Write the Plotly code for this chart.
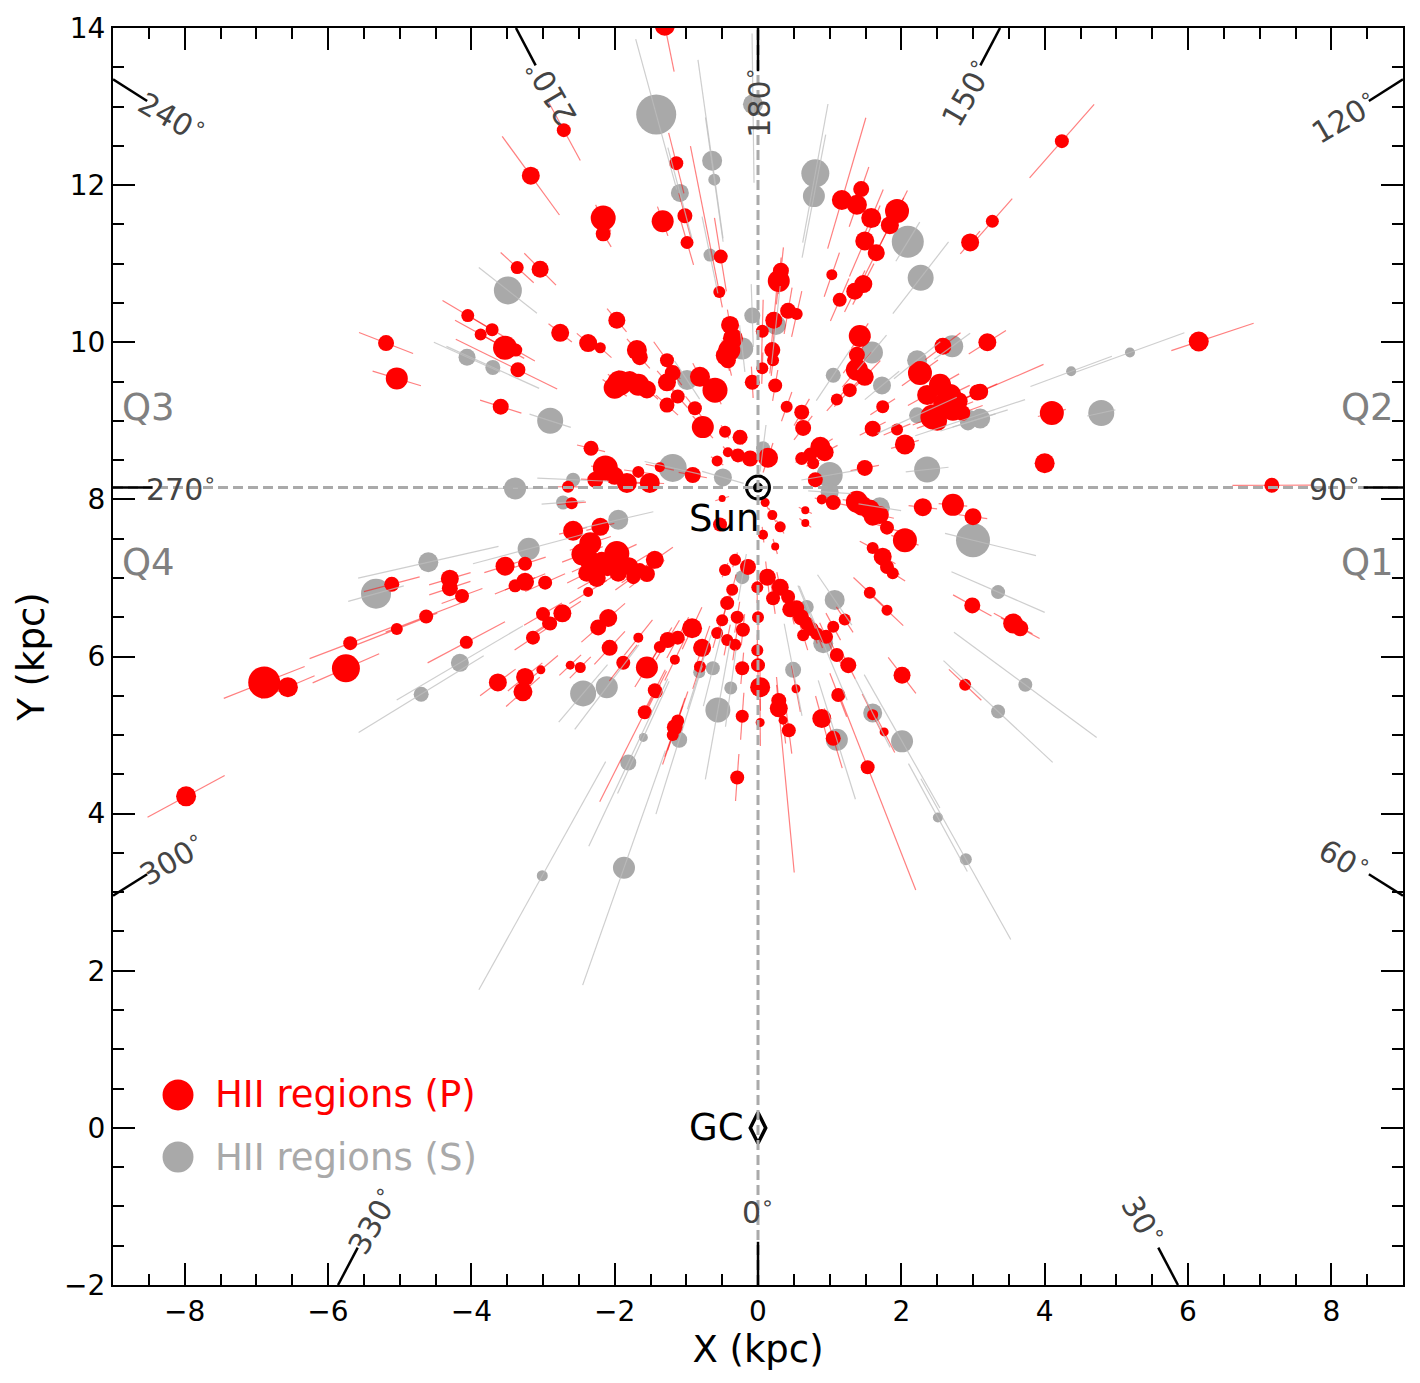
import math
import plotly.graph_objects as go

# Sun and Galactic centre
R0 = 8.15
X_MIN, X_MAX = -9, 9
Y_MIN, Y_MAX = -2, 14

# HII regions, primary sample: (x kpc, y kpc, marker size, err toward Sun, err away from Sun)
p_q1 = [
    (0.0, 6.50, 12, 0.2, 0.2), (0.0, 5.89, 14, 0.2, 0.2), (0.03, 5.61, 20, 0.3, 0.3), (0.03, 5.16, 9, 0.3, 0.3),
    (0.29, 5.34, 18, 0.3, 2.1), (0.29, 5.44, 15, 0.3, 0.3), (0.43, 5.06, 14, 0.3, 0.3), (0.35, 5.19, 9, 0.3, 0.3),
    (0.53, 5.59, 9, 0.3, 0.3), (0.89, 5.21, 19, 0.3, 0.3), (1.05, 4.96, 15, 0.4, 0.4), (1.12, 5.51, 14, 0.3, 0.3),
    (1.60, 5.26, 11, 0.3, 0.3), (1.76, 5.04, 9, 0.3, 0.3), (0.13, 7.01, 17, 0.2, 0.2), (0.31, 6.88, 17, 0.2, 0.2),
    (0.42, 6.76, 14, 0.2, 0.2), (0.21, 6.74, 14, 0.2, 0.2), (0.54, 6.62, 15, 0.2, 0.2), (0.68, 6.42, 14, 0.2, 0.2),
    (0.82, 6.29, 13, 0.2, 0.2), (0.63, 6.27, 12, 0.2, 0.2), (1.21, 6.47, 12, 0.2, 0.2), (1.05, 6.38, 12, 0.2, 0.2),
    (1.10, 6.02, 14, 0.2, 0.2), (1.26, 5.89, 16, 0.2, 0.2), (0.10, 7.96, 9, 0.1, 0.1), (0.20, 7.80, 10, 0.1, 0.1),
    (0.31, 7.65, 11, 0.1, 0.1), (0.07, 7.55, 10, 0.1, 0.1), (0.24, 7.40, 8, 0.1, 0.1), (0.66, 7.86, 8, 0.1, 0.1),
    (0.66, 7.70, 8, 0.1, 0.1), (1.38, 7.97, 22, 0.2, 0.2), (1.56, 7.87, 20, 0.2, 0.2), (1.60, 7.78, 18, 0.2, 0.2),
    (1.80, 7.64, 14, 0.2, 0.2), (2.05, 7.48, 24, 0.2, 0.2), (2.30, 7.90, 18, 0.2, 0.2), (2.72, 7.93, 22, 0.2, 0.2),
    (3.00, 7.78, 17, 0.2, 0.2), (1.60, 7.38, 12, 0.2, 0.2), (1.74, 7.27, 18, 0.2, 0.2), (1.80, 7.14, 14, 0.2, 0.2),
    (1.88, 7.06, 12, 0.2, 0.2), (1.56, 6.81, 12, 0.3, 0.3), (1.80, 6.59, 11, 0.3, 0.3), (2.99, 6.65, 16, 0.3, 0.3),
    (3.56, 6.42, 20, 0.3, 0.3), (3.66, 6.36, 16, 0.3, 0.3), (2.01, 5.76, 17, 0.3, 0.3), (2.89, 5.64, 12, 0.3, 0.3),
    (1.53, 4.59, 14, 1.0, 1.7), (1.05, 7.96, 15, 0.2, 0.2), (0.89, 8.00, 10, 0.1, 0.1), (0.45, 6.60, 16, 0.2, 0.2),
    (0.60, 6.50, 16, 0.2, 0.2), (0.75, 6.35, 14, 0.2, 0.2), (0.95, 6.25, 14, 0.2, 0.2), (1.45, 7.92, 20, 0.2, 0.2),
    (1.70, 7.80, 18, 0.2, 0.2),
]

p_q2 = [
    (0.29, 10.78, 22, 0.3, 0.3), (0.32, 10.91, 16, 0.3, 0.3), (1.17, 11.81, 20, 0.65, 1.1), (1.44, 11.95, 16, 0.3, 0.3),
    (1.38, 11.75, 20, 0.3, 0.3), (1.58, 11.58, 20, 0.4, 0.4), (1.94, 11.67, 24, 0.3, 0.3), (1.84, 11.49, 18, 0.4, 0.4),
    (1.49, 11.29, 19, 0.5, 0.5), (1.65, 11.14, 17, 0.4, 0.4), (2.96, 11.27, 18, 0.2, 0.2), (1.03, 10.86, 11, 0.3, 0.3),
    (1.47, 10.74, 18, 0.3, 0.3), (1.35, 10.65, 17, 0.3, 0.3), (1.14, 10.54, 14, 0.3, 0.3), (0.22, 10.28, 17, 0.4, 0.4),
    (0.42, 10.40, 16, 0.3, 0.3), (0.54, 10.36, 12, 0.3, 0.3), (0.06, 10.14, 13, 0.4, 0.4), (1.42, 10.08, 22, 0.2, 0.2),
    (2.58, 9.95, 17, 0.3, 0.3), (3.20, 10.00, 18, 0.3, 0.3), (0.20, 9.90, 16, 0.3, 0.3), (4.24, 12.56, 14, 0.65, 0.65),
    (3.27, 11.54, 13, 0.4, 0.4), (6.15, 10.01, 20, 0.4, 0.8), (4.10, 9.10, 24, 0.2, 0.2), (4.00, 8.46, 20, 0.1, 0.1),
    (7.17, 8.18, 15, 0.55, 0.55), (3.10, 9.37, 16, 0.3, 0.95), (2.85, 9.10, 16, 0.3, 0.3), (2.26, 9.61, 24, 0.3, 0.3),
    (2.54, 9.46, 22, 0.3, 0.3), (2.68, 9.33, 22, 0.3, 0.3), (2.36, 9.33, 20, 0.3, 0.3), (2.44, 9.05, 25, 0.3, 0.3),
    (2.72, 9.14, 22, 0.3, 0.3), (3.06, 9.36, 16, 0.3, 0.3), (1.38, 9.65, 22, 0.3, 0.3), (1.49, 9.56, 18, 0.3, 0.3),
    (1.28, 9.39, 14, 0.3, 0.3), (1.10, 9.27, 12, 0.2, 0.2), (1.74, 9.18, 13, 0.2, 0.2), (1.60, 8.90, 16, 0.2, 0.2),
    (1.94, 8.89, 12, 0.2, 0.2), (2.05, 8.70, 20, 0.2, 0.2), (1.49, 8.40, 16, 0.2, 0.2), (1.38, 9.84, 16, 0.3, 0.3),
    (0.40, 9.18, 12, 0.2, 0.2), (0.61, 9.11, 15, 0.2, 0.2), (0.63, 8.91, 16, 0.2, 0.2), (0.87, 8.67, 20, 0.2, 0.2),
    (0.73, 8.57, 14, 0.2, 0.2), (0.93, 8.60, 18, 0.2, 0.2), (0.61, 8.52, 13, 0.1, 0.1), (0.77, 8.46, 12, 0.1, 0.1),
    (0.80, 8.25, 15, 0.1, 0.1), (0.14, 8.53, 20, 0.2, 0.2), (0.06, 9.67, 12, 0.2, 0.2), (0.24, 9.45, 14, 0.2, 0.2),
    (0.21, 9.77, 12, 0.2, 0.2), (2.60, 9.22, 22, 0.3, 0.3), (2.80, 9.25, 18, 0.3, 0.3), (2.50, 9.00, 20, 0.3, 0.3),
]

p_q3 = [
    (-1.30, 14.03, 20, 0.6, 0.3), (-3.17, 12.12, 18, 0.64, 0.64), (-2.71, 12.70, 14, 0.45, 0.45), (-1.14, 12.28, 14, 0.4, 0.4),
    (-2.16, 11.58, 25, 0.2, 0.2), (-2.16, 11.38, 15, 0.2, 0.2), (-1.33, 11.54, 22, 0.2, 0.2), (-1.02, 11.61, 15, 0.3, 0.3),
    (-0.99, 11.27, 13, 0.3, 0.3), (-3.04, 10.93, 17, 0.3, 0.3), (-3.36, 10.95, 13, 0.3, 0.3), (-0.52, 11.09, 14, 0.45, 0.5),
    (-0.54, 10.64, 12, 0.2, 1.9), (-0.39, 10.22, 18, 0.2, 0.2), (-0.40, 9.90, 22, 0.2, 0.2), (-0.42, 9.77, 16, 0.2, 0.2),
    (-1.27, 9.77, 14, 0.3, 0.3), (-1.69, 9.90, 20, 0.2, 0.2), (-1.65, 9.81, 16, 0.2, 0.2), (-1.97, 10.28, 17, 0.2, 0.2),
    (-1.93, 9.48, 25, 0.2, 0.2), (-1.67, 9.46, 22, 0.2, 0.2), (-1.79, 9.52, 18, 0.2, 0.2), (-2.37, 9.99, 18, 0.2, 0.2),
    (-2.20, 9.93, 11, 0.2, 0.2), (-2.76, 10.12, 18, 0.2, 0.2), (-3.53, 9.93, 24, 0.3, 0.3), (-3.38, 9.90, 13, 0.3, 0.3),
    (-3.35, 9.65, 15, 0.6, 0.95), (-4.05, 10.34, 13, 0.4, 0.4), (-3.87, 10.10, 12, 0.4, 0.4), (-3.71, 10.16, 13, 0.4, 0.4),
    (-5.19, 9.99, 16, 0.4, 0.4), (-5.04, 9.54, 22, 0.35, 0.35), (-3.59, 9.18, 16, 0.3, 0.3), (-2.33, 8.65, 15, 0.2, 0.2),
    (-2.13, 8.40, 25, 0.2, 0.2), (-2.27, 8.25, 16, 0.2, 0.2), (-1.83, 8.21, 20, 0.2, 0.2), (-1.67, 8.35, 12, 0.2, 0.2),
    (-1.51, 8.21, 20, 0.2, 0.2), (-1.37, 8.41, 10, 0.2, 0.2), (-0.91, 8.31, 16, 0.2, 0.2), (-2.65, 8.16, 12, 0.2, 0.2),
    (-0.46, 8.86, 12, 0.1, 0.1), (-0.25, 8.79, 15, 0.1, 0.1), (-0.42, 8.60, 10, 0.1, 0.1), (-0.57, 8.49, 11, 0.1, 0.1),
    (-0.28, 8.56, 14, 0.1, 0.1), (-0.11, 8.52, 16, 0.1, 0.1), (-0.77, 8.92, 22, 0.2, 0.2), (-0.88, 9.16, 14, 0.2, 0.2),
    (-1.27, 9.20, 15, 0.2, 0.2), (-1.12, 9.31, 14, 0.2, 0.2), (-0.60, 9.39, 25, 0.2, 0.2), (-0.81, 9.56, 20, 0.2, 0.2),
    (-1.19, 9.61, 16, 0.2, 0.2), (-1.27, 9.49, 18, 0.2, 0.2), (-0.08, 9.49, 15, 0.2, 0.2), (-0.35, 10.05, 20, 0.2, 0.2),
    (-0.45, 9.83, 20, 0.2, 0.2), (-2.00, 9.42, 22, 0.2, 0.2), (-1.55, 9.40, 18, 0.2, 0.2), (-2.00, 8.30, 18, 0.2, 0.2),
]

p_q4 = [
    (-2.60, 7.95, 12, 0.2, 0.2), (-2.58, 7.60, 20, 0.2, 0.2), (-2.34, 7.44, 22, 0.3, 0.3), (-2.20, 7.65, 18, 0.2, 0.2),
    (-1.97, 7.31, 25, 0.3, 0.3), (-2.32, 7.19, 22, 0.3, 0.3), (-2.39, 7.06, 17, 0.3, 0.3), (-2.18, 7.23, 16, 0.3, 0.3),
    (-1.95, 7.06, 17, 0.3, 0.3), (-1.74, 7.01, 14, 0.3, 0.3), (-1.44, 7.23, 18, 0.3, 0.3), (-1.65, 7.10, 14, 0.3, 0.3),
    (-2.97, 6.94, 14, 0.3, 0.3), (-2.37, 6.82, 10, 0.3, 0.3), (-3.53, 7.15, 19, 0.3, 0.3), (-3.25, 7.18, 14, 0.3, 0.3),
    (-3.25, 6.95, 18, 0.3, 0.3), (-3.39, 6.90, 13, 0.3, 0.3), (-4.30, 6.99, 18, 0.3, 0.3), (-4.30, 6.87, 16, 0.3, 0.3),
    (-4.13, 6.77, 14, 0.3, 0.3), (-5.11, 6.92, 15, 0.4, 0.4), (-4.63, 6.51, 14, 0.6, 0.6), (-5.04, 6.35, 12, 0.6, 0.6),
    (-5.69, 6.17, 14, 0.6, 0.6), (-5.75, 5.85, 28, 0.5, 0.5), (-6.89, 5.67, 32, 0.6, 0.6), (-6.56, 5.61, 20, 0.4, 0.4),
    (-4.07, 6.18, 13, 0.6, 0.6), (-7.98, 4.22, 20, 0.6, 0.6), (-3.63, 5.67, 18, 0.3, 0.3), (-3.25, 5.74, 18, 0.3, 0.3),
    (-3.28, 5.55, 19, 0.3, 0.3), (-3.00, 6.54, 14, 0.3, 0.3), (-2.93, 6.42, 12, 0.3, 0.3), (-3.14, 6.24, 14, 0.3, 0.3),
    (-3.03, 5.83, 9, 0.3, 0.3), (-2.73, 6.55, 18, 0.3, 0.3), (-2.90, 6.42, 14, 0.3, 0.3), (-2.23, 6.37, 16, 0.3, 0.3),
    (-2.09, 6.49, 18, 0.3, 0.3), (-2.07, 6.11, 16, 0.3, 0.3), (-1.88, 5.92, 14, 0.3, 0.3), (-1.67, 6.24, 10, 0.3, 0.3),
    (-2.48, 5.86, 11, 0.2, 0.2), (-2.62, 5.89, 9, 0.2, 0.2), (-1.55, 5.86, 22, 0.3, 0.3), (-1.44, 5.57, 14, 0.3, 0.3),
    (-1.58, 5.29, 14, 0.3, 1.3), (-1.42, 5.55, 13, 0.3, 0.3), (-1.16, 5.10, 16, 0.4, 0.4), (-1.12, 5.18, 13, 0.4, 0.4),
    (-1.19, 5.00, 12, 0.4, 0.4), (-0.78, 6.11, 18, 0.3, 0.3), (-0.92, 6.36, 20, 0.3, 0.3), (-1.12, 6.24, 14, 0.3, 0.3),
    (-1.26, 6.21, 16, 0.3, 0.3), (-1.37, 6.12, 12, 0.3, 0.3), (-1.16, 5.96, 10, 0.3, 0.3), (-0.81, 5.87, 12, 0.3, 0.3),
    (-0.01, 6.08, 12, 0.2, 0.2), (-0.22, 5.85, 14, 0.2, 0.2), (-0.22, 5.24, 13, 0.3, 0.3), (-0.29, 4.46, 14, 0.3, 0.3),
    (-0.43, 6.68, 14, 0.2, 0.2), (-0.29, 6.50, 13, 0.2, 0.2), (-0.50, 6.46, 12, 0.2, 0.2), (-0.21, 6.34, 14, 0.2, 0.2),
    (-0.57, 6.30, 12, 0.2, 0.2), (-0.43, 6.21, 12, 0.2, 0.2), (-0.32, 6.15, 12, 0.2, 0.2), (-0.32, 7.23, 12, 0.1, 0.1),
    (-0.46, 7.10, 12, 0.1, 0.1), (-0.14, 7.14, 16, 0.1, 0.1), (-0.36, 6.85, 12, 0.2, 0.2), (-0.01, 6.88, 12, 0.2, 0.2),
    (-0.53, 7.68, 14, 0.1, 0.1), (-0.50, 8.01, 7, 0.1, 0.1), (-2.45, 7.30, 22, 0.3, 0.3), (-2.10, 7.15, 20, 0.3, 0.3),
    (-1.80, 7.15, 18, 0.3, 0.3), (-2.25, 7.00, 18, 0.3, 0.3), (-1.55, 7.05, 16, 0.3, 0.3),
]

# HII regions, secondary sample
s_north = [
    (-1.42, 12.90, 40, 1.0, 1.0), (-0.07, 13.03, 20, 1.0, 0.9), (-0.64, 12.31, 20, 1.0, 1.3), (-0.61, 12.07, 12, 0.8, 0.8),
    (-1.09, 11.90, 18, 0.6, 0.6), (-0.67, 11.11, 13, 0.5, 0.5), (0.80, 12.15, 28, 0.9, 0.9), (0.78, 11.86, 22, 0.8, 0.8),
    (2.09, 11.28, 32, 0.3, 0.3), (2.27, 10.82, 26, 0.6, 0.6), (-3.49, 10.66, 28, 0.5, 0.5), (-4.06, 9.81, 17, 0.5, 0.5),
    (-3.70, 9.68, 15, 0.7, 0.7), (-2.90, 9.00, 26, 0.3, 0.3), (-2.58, 8.25, 14, 0.5, 0.5), (-1.19, 8.40, 28, 0.4, 0.4),
    (-0.49, 8.28, 18, 0.3, 0.3), (-0.22, 9.92, 22, 0.3, 0.3), (-0.99, 9.52, 20, 0.3, 0.3), (-0.08, 10.34, 16, 0.4, 0.4),
    (0.25, 10.22, 20, 0.5, 0.5), (1.05, 9.58, 15, 0.4, 0.4), (1.59, 9.87, 22, 0.3, 0.3), (1.73, 9.45, 18, 0.3, 0.3),
    (2.22, 9.77, 20, 0.4, 0.4), (2.71, 9.95, 22, 0.3, 0.3), (2.96, 9.04, 15, 0.8, 0.8), (2.22, 9.07, 16, 0.6, 0.6),
    (3.10, 9.03, 20, 0.4, 0.4), (2.93, 8.98, 16, 0.4, 0.4), (4.79, 9.10, 26, 0.2, 0.2), (4.37, 9.63, 10, 0.6, 0.6),
    (5.19, 9.87, 10, 0.8, 0.8), (1.00, 8.31, 26, 0.4, 0.4), (2.36, 8.38, 26, 0.3, 0.3), (0.07, 8.65, 14, 0.3, 0.3),
]

s_south = [
    (-3.39, 8.14, 22, 0.6, 0.6), (-2.72, 7.96, 14, 0.3, 0.3), (1.00, 8.09, 18, 0.3, 0.3), (1.70, 7.90, 20, 0.3, 0.3),
    (3.00, 7.48, 34, 0.4, 0.9), (3.35, 6.82, 14, 0.7, 0.7), (3.73, 5.64, 14, 1.2, 1.2), (3.35, 5.30, 14, 1.0, 1.0),
    (2.90, 3.42, 12, 1.2, 1.2), (2.51, 3.95, 10, 0.8, 0.8), (2.01, 4.92, 22, 1.0, 1.0), (1.60, 5.28, 19, 0.5, 0.5),
    (1.10, 4.94, 22, 0.8, 0.8), (1.07, 6.72, 20, 0.4, 0.4), (0.68, 6.63, 14, 0.3, 0.3), (0.91, 6.17, 20, 0.8, 0.8),
    (0.49, 5.83, 16, 0.6, 0.6), (-0.22, 7.01, 14, 0.3, 0.3), (-0.38, 5.60, 13, 0.5, 0.5), (-0.56, 5.32, 25, 0.9, 0.9),
    (-0.63, 5.85, 14, 0.5, 0.5), (-0.82, 5.80, 12, 0.5, 0.5), (-2.44, 5.53, 26, 0.5, 0.5), (-2.11, 5.61, 22, 0.7, 0.7),
    (-1.60, 4.97, 9, 0.8, 0.8), (-1.10, 4.94, 16, 1.0, 1.0), (-1.81, 4.65, 16, 1.2, 1.2), (-1.87, 3.31, 22, 1.6, 1.6),
    (-3.01, 3.21, 11, 1.7, 1.7), (-4.16, 5.92, 18, 1.0, 1.0), (-4.70, 5.52, 15, 1.0, 1.0), (-3.20, 7.37, 22, 0.8, 0.8),
    (-4.60, 7.20, 20, 1.0, 1.0), (-5.33, 6.80, 30, 0.4, 0.4), (-1.95, 7.74, 20, 0.5, 0.5),
]

# Galactic longitude marks
lon_marks = [0, 30, 60, 90, 120, 150, 180, 210, 240, 270, 300, 330]
lon_angles = [0, 60, 30, 0, -30, -60, -90, -120, 30, 0, -30, -60]

quad_names = ['Q1', 'Q2', 'Q3', 'Q4']
quad_x = [8.5, 8.5, -8.5, -8.5]
quad_y = [7.2, 9.17, 9.17, 7.2]

FONT = 'DejaVu Sans'
RED = '#ff0000'
GREY = '#a9a9a9'

p_rows = p_q1 + p_q2 + p_q3 + p_q4
s_rows = s_north + s_south


def los_segments(rows):
    # error bars run along the line of sight from the Sun
    xs, ys = [], []
    for x, y, s, lo, hi in rows:
        dx, dy = x, y - R0
        d = math.hypot(dx, dy)
        ux, uy = dx / d, dy / d
        xs += [x - lo * ux, x + hi * ux, None]
        ys += [y - lo * uy, y + hi * uy, None]
    return xs, ys


def edge_dist(l):
    ux, uy = math.sin(math.radians(l)), -math.cos(math.radians(l))
    ts = []
    if ux > 1e-9:
        ts.append(X_MAX / ux)
    if ux < -1e-9:
        ts.append(X_MIN / ux)
    if uy > 1e-9:
        ts.append((Y_MAX - R0) / uy)
    if uy < -1e-9:
        ts.append((Y_MIN - R0) / uy)
    return min(ts), ux, uy


fig = go.Figure()

fig.add_trace(go.Scatter(x=[r[0] for r in s_rows], y=[r[1] for r in s_rows], mode='markers',
                         marker=dict(size=[r[2] for r in s_rows], color=GREY, opacity=1, line=dict(width=0)),
                         showlegend=False, hoverinfo='skip'))
fig.add_trace(go.Scatter(x=[r[0] for r in p_rows], y=[r[1] for r in p_rows], mode='markers',
                         marker=dict(size=[r[2] for r in p_rows], color=RED, opacity=1, line=dict(width=0)),
                         showlegend=False, hoverinfo='skip'))

ex, ey = los_segments(p_rows)
fig.add_trace(go.Scatter(x=ex, y=ey, mode='lines', line=dict(color='rgba(255,0,0,0.5)', width=1.2),
                         showlegend=False, hoverinfo='skip'))
ex, ey = los_segments(s_rows)
fig.add_trace(go.Scatter(x=ex, y=ey, mode='lines', line=dict(color='rgba(190,190,190,0.75)', width=1.2),
                         showlegend=False, hoverinfo='skip'))

# Sun and GC
fig.add_trace(go.Scatter(x=[0], y=[R0], mode='markers',
                         marker=dict(symbol='circle', size=23, color='white', line=dict(color='black', width=3)),
                         showlegend=False, hoverinfo='skip'))
fig.add_trace(go.Scatter(x=[0], y=[R0], mode='markers', marker=dict(symbol='circle', size=10, color='black'),
                         showlegend=False, hoverinfo='skip'))
fig.add_trace(go.Scatter(x=[0], y=[0], mode='markers',
                         marker=dict(symbol='diamond-tall-open', size=22, color='black', line=dict(width=3.5)),
                         showlegend=False, hoverinfo='skip'))

shapes = [
    dict(type='line', xref='x', yref='y', x0=0, x1=0, y0=Y_MIN, y1=Y_MAX, layer='above',
         line=dict(color='#aaaaaa', width=3, dash='10px,5px')),
    dict(type='line', xref='x', yref='y', x0=X_MIN, x1=X_MAX, y0=R0, y1=R0, layer='above',
         line=dict(color='#aaaaaa', width=3, dash='10px,5px')),
]
annotations = []
for l, ang in zip(lon_marks, lon_angles):
    t, ux, uy = edge_dist(l)
    shapes.append(dict(type='line', xref='x', yref='y', layer='above',
                       x0=(t - 0.55) * ux, y0=R0 + (t - 0.55) * uy, x1=t * ux, y1=R0 + t * uy,
                       line=dict(color='black', width=2.5)))
    annotations.append(dict(x=(t - 0.95) * ux, y=R0 + (t - 0.95) * uy, xref='x', yref='y',
                            text=f'{l}<sup>∘</sup>', showarrow=False, textangle=ang,
                            font=dict(family=FONT, size=30, color='#444444')))

for name, qx, qy in zip(quad_names, quad_x, quad_y):
    annotations.append(dict(x=qx, y=qy, xref='x', yref='y', text=name, showarrow=False,
                            font=dict(family=FONT, size=37, color='#808080')))

annotations.append(dict(x=0, y=R0, xref='x', yref='y', text='Sun', showarrow=False, xanchor='right',
                        yanchor='top', xshift=3, yshift=-7, font=dict(family=FONT, size=37, color='black')))
annotations.append(dict(x=0, y=0, xref='x', yref='y', text='GC', showarrow=False, xanchor='right',
                        xshift=-12, font=dict(family=FONT, size=37, color='black')))

# legend drawn by hand so the markers can be large
for label, col, ly in [('HII regions (P)', RED, 0.1512), ('HII regions (S)', GREY, 0.1018)]:
    shapes.append(dict(type='circle', xref='paper', yref='paper', x0=0.0504 - 0.012, x1=0.0504 + 0.012,
                       y0=ly - 0.0123, y1=ly + 0.0123, fillcolor=col, line=dict(width=0)))
    annotations.append(dict(x=0.0772, y=ly, xref='paper', yref='paper', text=label, showarrow=False,
                            xanchor='left', yanchor='middle', font=dict(family=FONT, size=37, color=col)))

axis_style = dict(showgrid=False, zeroline=False, showline=True, linecolor='black', linewidth=2,
                  mirror='allticks', ticks='inside', ticklen=22, tickwidth=2, tickcolor='black',
                  automargin=False, tickfont=dict(family=FONT, size=28, color='black'),
                  minor=dict(ticks='inside', ticklen=11, tickwidth=1.5, tickcolor='black', dtick=0.5))

fig.update_xaxes(range=[X_MIN, X_MAX], tickvals=[-8, -6, -4, -2, 0, 2, 4, 6, 8],
                 title=dict(text='X (kpc)', font=dict(family=FONT, size=37, color='black'), standoff=8),
                 **axis_style)
fig.update_yaxes(range=[Y_MIN, Y_MAX], tickvals=[-2, 0, 2, 4, 6, 8, 10, 12, 14],
                 title=dict(text='Y (kpc)', font=dict(family=FONT, size=37, color='black'), standoff=8),
                 **axis_style)

# the page adds an 8px body margin, so the figure is drawn 8px smaller and shifted
fig.update_layout(width=1412, height=1375, margin=dict(l=105, r=17, t=20, b=98),
                  plot_bgcolor='white', paper_bgcolor='white', showlegend=False,
                  shapes=shapes, annotations=annotations, font=dict(family=FONT))

fig.write_html("out.html")
